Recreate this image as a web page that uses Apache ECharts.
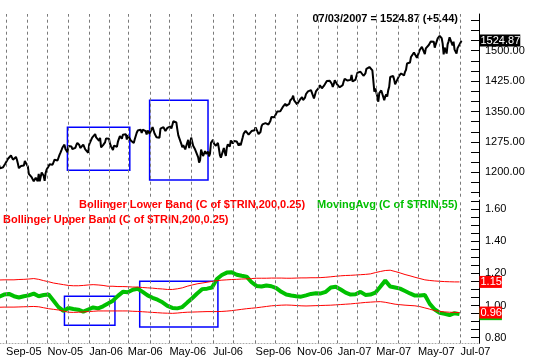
<!DOCTYPE html>
<html><head><meta charset="utf-8">
<script src="https://cdn.jsdelivr.net/npm/echarts@6/dist/echarts.min.js"></script>
<style>html,body{margin:0;padding:0;background:#fff}#c{width:533px;height:360px}</style>
</head><body><div id="c"></div>
<script>
// ---- data ----
const startDate = '2005-08-23';
const holidays = ['2005-09-05','2005-11-24','2005-12-26','2006-01-02','2006-01-16','2006-02-20','2006-04-14','2006-05-29','2006-07-04','2006-09-04','2006-11-23','2006-12-25','2007-01-01','2007-01-02','2007-01-15','2007-02-19','2007-04-06','2007-05-28'];
// daily closes, one per trading day from startDate
const price = [
1217.6,1209.6,1212.4,1205.1,1212.3,1208.4,1220.3,
1221.6,1218.0,1233.4,1236.4,1231.7,1241.5,1240.6,1231.2,1227.2,1227.7,1237.9,1231.0,1221.3,1210.2,1214.6,1215.3,1215.6,1215.7,1216.9,1227.7,1228.8,
1226.7,1214.5,1196.4,1191.5,1195.9,1187.3,1184.9,1177.7,1176.8,1186.6,1190.1,1178.1,1195.8,1177.8,1179.6,1199.4,1196.5,1191.4,1178.9,1198.4,1207.0,
1202.8,1215.0,1220.1,1219.9,1222.8,1218.6,1220.7,1231.0,1234.7,1233.8,1229.0,1231.2,1242.8,1248.3,1254.6,1261.2,1265.6,1268.3,1257.5,1257.5,1249.5,
1264.7,1265.1,1262.1,1263.7,1257.4,1255.8,1259.4,1260.4,1267.4,1272.7,1270.9,1267.3,1259.9,1259.6,1262.8,1268.1,1268.7,1256.5,1258.2,1254.4,1248.3,
1268.8,1273.5,1273.5,1285.5,1290.2,1289.7,1294.2,1286.1,1287.6,1283.0,1277.9,1285.0,1261.5,1263.8,1266.9,1264.7,1273.8,1283.7,1285.2,1280.1,
1282.5,1270.8,1264.0,1265.0,1254.8,1265.7,1263.8,1267.0,1262.9,1275.5,1280.0,1289.4,1287.2,1283.0,1292.7,1287.8,1289.4,1294.1,1280.7,
1291.2,1289.1,1287.2,1278.3,1275.9,1278.5,1272.2,1281.4,1284.1,1297.5,1303.0,1305.3,1307.3,1305.1,1297.2,1305.0,1301.7,1303.0,1301.6,1293.2,1302.9,1300.3,1294.9,
1297.8,1305.9,1311.6,1309.0,1295.5,1296.6,1286.6,1288.1,1289.1,1285.3,1307.7,1309.9,1311.5,1311.3,1308.1,1301.7,1305.4,1309.7,1310.6,
1305.2,1313.2,1308.1,1312.3,1325.8,1324.7,1325.1,1322.9,1305.9,1291.2,1294.5,1292.1,1270.3,1261.8,1267.0,1262.1,1256.6,1258.6,1272.9,1280.2,1259.8,1270.1,
1285.7,1288.2,1265.3,1263.9,1256.2,1257.9,1252.3,1237.4,1223.7,1230.0,1256.2,1251.5,1240.1,1240.1,1252.2,1245.6,1244.5,1250.6,1239.2,1246.0,1272.9,1270.2,
1280.2,1270.9,1274.1,1265.5,1267.3,1272.4,1258.6,1242.3,1236.2,1234.5,1236.9,1259.8,1249.1,1240.3,1260.9,1268.9,1268.4,1263.2,1278.6,1276.7,
1270.9,1277.4,1280.3,1279.4,1275.8,1271.5,1266.0,1271.8,1266.7,1268.2,1285.6,1295.4,1297.5,1302.3,1297.5,1298.8,1293.0,1296.1,1295.1,1301.8,1304.3,1305.4,1303.8,
1311.0,1313.3,1300.3,1294.0,1298.9,1299.5,1313.0,1318.1,1316.3,1319.7,1321.2,1317.6,1325.2,1318.0,1314.8,1326.4,1336.3,1336.6,1338.9,1335.9,
1331.3,1334.1,1350.2,1353.2,1349.6,1350.7,1353.4,1350.0,1362.8,1365.6,1369.1,1364.1,1365.8,1367.0,1368.6,1377.0,1377.4,1382.2,1389.1,1377.3,1377.9,1377.9,
1367.8,1367.3,1364.3,1379.8,1382.8,1385.7,1378.3,1380.9,1384.4,1393.2,1396.6,1399.8,1401.2,1400.5,1402.8,1406.1,1401.0,1382.0,1386.7,1399.5,1400.6,
1396.7,1409.1,1414.8,1412.9,1407.3,1409.8,1413.0,1411.6,1413.2,1425.5,1427.1,1422.5,1425.6,1423.5,1418.3,1410.8,1416.9,1426.8,1424.7,1418.3,
1416.6,1418.3,1409.7,1412.8,1412.1,1414.9,1423.8,1430.7,1431.9,1430.6,1426.4,1430.5,1423.0,1428.0,1440.1,1423.9,1422.2,1420.6,1428.8,1438.2,
1445.9,1448.4,1447.0,1448.0,1450.0,1448.3,1438.1,1433.4,1444.3,1455.3,1456.8,1455.5,1459.7,1457.6,1456.4,1451.2,1449.4,1399.0,1406.8,
1403.2,1387.2,1374.1,1395.4,1392.0,1401.9,1402.8,1406.6,1378.0,1387.2,1392.3,1387.0,1402.1,1410.9,1435.0,1434.5,1436.1,1437.5,1428.6,1417.2,1422.5,1420.9,
1424.6,1437.8,1440.1,1443.8,1444.6,1448.4,1438.9,1447.8,1452.9,1468.3,1471.5,1472.5,1470.7,1484.4,1480.9,1480.4,1495.4,1494.3,1494.1,1482.4,
1486.3,1495.9,1502.4,1505.6,1509.5,1507.7,1512.6,1491.5,1505.9,1503.2,1501.2,1514.1,1512.8,1522.8,1525.1,1524.1,1522.3,1507.5,1515.7,1518.1,1530.2,1530.6,
1536.3,1539.2,1531.0,1517.4,1490.7,1507.7,1509.1,1493.0,1515.7,1523.0,1532.9,1531.1,1533.7,1512.8,1522.2,1502.6,1497.7,1492.9,1506.3,1505.7,1503.4,
1519.4,1524.87
];
// TRIN indicators, one value every 5 trading days from startDate
const sampleStep = 5;
const upperBand = [
1.159,1.160,1.160,1.160,1.162,1.163,1.165,1.168,1.163,1.155,
1.148,1.140,1.135,1.130,1.125,1.123,1.123,1.125,1.128,1.130,
1.128,1.125,1.120,1.120,1.118,1.118,1.117,1.115,1.115,1.112,
1.110,1.108,1.105,1.103,1.100,1.100,1.104,1.110,1.120,1.128,
1.135,1.140,1.145,1.150,1.155,1.158,1.160,1.162,1.163,1.165,
1.166,1.168,1.170,1.170,1.170,1.171,1.171,1.171,1.170,1.170,
1.171,1.172,1.172,1.173,1.173,1.174,1.176,1.179,1.182,1.185,
1.187,1.188,1.190,1.192,1.194,1.197,1.205,1.212,1.218,1.220,
1.212,1.203,1.193,1.185,1.176,1.168,1.160,1.156,1.153,1.151,
1.149,1.148,1.147,1.147];
const lowerBand = [
0.989,0.990,0.990,0.990,0.991,0.992,0.993,0.994,0.992,0.986,
0.980,0.976,0.972,0.965,0.958,0.957,0.958,0.960,0.962,0.964,
0.966,0.966,0.966,0.966,0.966,0.966,0.966,0.964,0.963,0.961,
0.959,0.957,0.955,0.953,0.952,0.951,0.953,0.956,0.958,0.959,
0.960,0.961,0.962,0.962,0.962,0.963,0.965,0.968,0.972,0.976,
0.980,0.983,0.986,0.990,0.994,0.998,1.000,1.002,1.003,1.002,
1.000,0.998,0.997,0.998,0.999,1.000,1.001,1.002,1.004,1.006,
1.008,1.010,1.013,1.016,1.019,1.021,1.023,1.024,1.020,1.014,
1.008,1.005,1.002,1.000,0.998,0.993,0.985,0.977,0.968,0.963,
0.960,0.958,0.957,0.956];
const movingAvg = [
1.055,1.068,1.072,1.058,1.050,1.058,1.063,1.074,1.058,1.065,
1.068,1.030,0.990,0.966,0.984,0.978,0.974,0.962,0.975,0.988,
0.982,0.995,1.012,1.030,1.060,1.085,1.082,1.098,1.104,1.085,
1.063,1.048,1.036,1.020,0.998,0.985,0.982,0.990,1.018,1.045,
1.075,1.102,1.105,1.112,1.165,1.190,1.205,1.207,1.192,1.185,
1.180,1.145,1.122,1.118,1.125,1.120,1.108,1.085,1.068,1.062,
1.058,1.055,1.063,1.072,1.076,1.075,1.085,1.112,1.117,1.100,
1.080,1.068,1.070,1.085,1.066,1.068,1.080,1.117,1.155,1.118,
1.112,1.105,1.090,1.075,1.062,1.063,1.065,1.010,0.975,0.955,
0.948,0.940,0.952,0.946];
// annotation boxes: [fromDate, toDate, low, high]
const priceBoxes = [['2005-11-30','2006-03-03',1205,1311],['2006-03-31','2006-06-26',1181,1377.6]];
const trinBoxes = [['2005-11-25','2006-02-09',0.877,1.057],['2006-03-17','2006-07-11',0.866,1.151]];
const priceLabelValues = [1200,1275,1350,1425,1500];
const priceTickValues = [1150,1175,1200,1225,1250,1275,1300,1325,1350,1375,1400,1425,1450,1475,1500,1525,1550,1575];
const trinLabelValues = [0.80,1.00,1.20,1.40,1.60];
const trinTickValues = [0.80,0.85,0.90,0.95,1.00,1.05,1.10,1.15,1.20,1.25,1.30,1.35,1.40,1.45,1.50,1.55,1.60,1.65];
const monthNames = ['Jan','Feb','Mar','Apr','May','Jun','Jul','Aug','Sep','Oct','Nov','Dec'];
const titleText = '07/03/2007 = 1524.87 (+5.44)';
const legendLower = 'Bollinger Lower Band (C of $TRIN,200,0.25)';
const legendUpper = 'Bollinger Upper Band (C of $TRIN,200,0.25)';
const legendMA = 'MovingAvg (C of $TRIN,55)';

// ---- trading calendar ----
function buildCalendar(start, n, hol) {
  const hs = new Set(hol); const out = [];
  const d = new Date(start + 'T00:00:00Z');
  while (out.length < n) {
    const wd = d.getUTCDay(); const s = d.toISOString().slice(0, 10);
    if (wd !== 0 && wd !== 6 && !hs.has(s)) out.push(s);
    d.setUTCDate(d.getUTCDate() + 1);
  }
  return out;
}
const dates = buildCalendar(startDate, price.length, holidays);
const idxOf = {}; dates.forEach((d, i) => { idxOf[d] = i; });
const monthStarts = [];
for (let i = 1; i < dates.length; i++) if (dates[i].slice(5, 7) !== dates[i - 1].slice(5, 7)) monthStarts.push(i);
const labeledMonths = monthStarts.filter(i => (+dates[i].slice(5, 7) - 1) % 2 === 0);
const monthText = {};
labeledMonths.forEach(i => { monthText[i] = monthNames[+dates[i].slice(5, 7) - 1] + '-' + dates[i].slice(2, 4); });

const X_MIN = 0.9, X_MAX = 484.7;
const FONT = 'Liberation Sans, Arial, sans-serif';
const last = a => a[a.length - 1];
const sampled = a => a.map((v, i) => [i * sampleStep, v]);
const gridLine = (gi) => ({
  type: 'line', xAxisIndex: gi, yAxisIndex: gi, data: [], z: 1, silent: true,
  markLine: { silent: true, symbol: ['none', 'none'], label: { show: false }, animation: false,
    lineStyle: { color: '#7a7a7a', type: [3, 3], width: 1 }, data: monthStarts.map(m => ({ xAxis: m })) }
});
const boxArea = (boxes) => ({ silent: true, animation: false,
  itemStyle: { color: 'rgba(0,0,0,0)', borderColor: '#0000ff', borderWidth: 1.5 },
  data: boxes.map(b => [{ coord: [idxOf[b[0]], b[2]] }, { coord: [idxOf[b[1]], b[3]] }]) });
const endTag = (v, bg, txt) => ({ animation: false, symbol: 'rect', symbolSize: 1, itemStyle: { color: 'rgba(0,0,0,0)' },
  data: [{ coord: [X_MAX, v] }],
  label: { show: true, position: 'right', distance: 0, formatter: txt, color: '#fff', backgroundColor: bg,
    padding: [1, 0, 0, 1], fontSize: 11, lineHeight: 11, fontFamily: FONT } });

const chart = echarts.init(document.getElementById('c'));
chart.setOption({
  animation: false,
  backgroundColor: '#fff',
  grid: [
    { left: 0, right: 54, top: 14, height: 182.7 },
    { left: 0, right: 54, top: 200, height: 143.3 }
  ],
  xAxis: [
    { gridIndex: 0, type: 'value', min: X_MIN, max: X_MAX, show: false },
    { gridIndex: 1, type: 'value', min: X_MIN, max: X_MAX,
      axisLine: { show: true, onZero: false, lineStyle: { color: '#aaa', type: [1, 2], width: 1 } },
      axisTick: { show: false }, splitLine: { show: false },
      axisLabel: { customValues: labeledMonths, formatter: v => monthText[v] || '', align: 'left', margin: 3,
        fontSize: 11, fontFamily: FONT, color: '#000', showMinLabel: true, showMaxLabel: true, hideOverlap: false } }
  ],
  yAxis: [
    { gridIndex: 0, type: 'value', position: 'right', min: 1139.8, max: 1590.5, splitLine: { show: false },
      axisLine: { show: true, onZero: false, lineStyle: { color: '#000', width: 1 } },
      axisTick: { show: true, inside: true, length: 8, customValues: priceTickValues, lineStyle: { color: '#000' } },
      axisLabel: { customValues: priceLabelValues, formatter: v => v.toFixed(2), margin: 6, fontSize: 11, fontFamily: FONT, color: '#000' } },
    { gridIndex: 1, type: 'value', position: 'right', min: 0.7643, max: 1.6577, splitLine: { show: false },
      axisLine: { show: true, onZero: false, lineStyle: { color: '#000', width: 1 } },
      axisTick: { show: true, inside: true, length: 8, customValues: trinTickValues, lineStyle: { color: '#000' } },
      axisLabel: { customValues: trinLabelValues, formatter: v => v.toFixed(2), margin: 6, fontSize: 11, fontFamily: FONT, color: '#000' } }
  ],
  series: [
    gridLine(0), gridLine(1),
    { name: 'Price', type: 'line', xAxisIndex: 0, yAxisIndex: 0, z: 3, symbol: 'none', showSymbol: false,
      data: price.map((v, i) => [i, v]), lineStyle: { color: '#000', width: 2 },
      markArea: boxArea(priceBoxes),
      markPoint: endTag(last(price), '#000', last(price).toFixed(2)) },
    { name: legendMA, type: 'line', xAxisIndex: 1, yAxisIndex: 1, z: 3, symbol: 'none', showSymbol: false,
      data: sampled(movingAvg), lineStyle: { color: '#00c000', width: 4 },
      markArea: boxArea(trinBoxes),
      markPoint: endTag(last(movingAvg), '#00c000', last(movingAvg).toFixed(2)) },
    { name: legendUpper, type: 'line', xAxisIndex: 1, yAxisIndex: 1, z: 4, symbol: 'none', showSymbol: false,
      data: sampled(upperBand), lineStyle: { color: '#ff0000', width: 1 },
      markPoint: endTag(last(upperBand), '#ff0000', last(upperBand).toFixed(2)) },
    { name: legendLower, type: 'line', xAxisIndex: 1, yAxisIndex: 1, z: 4, symbol: 'none', showSymbol: false,
      data: sampled(lowerBand), lineStyle: { color: '#ff0000', width: 1 },
      markPoint: endTag(last(lowerBand), '#ff0000', last(lowerBand).toFixed(2)) }
  ],
  graphic: [
    { type: 'text', right: 75, top: 13, style: { text: titleText, font: 'bold 11px ' + FONT, fill: '#000' } },
    { type: 'text', left: 79, top: 199, style: { text: legendLower, font: 'bold 11px ' + FONT, fill: '#ff0000' } },
    { type: 'text', left: 317, top: 199, style: { text: legendMA, font: 'bold 11px ' + FONT, fill: '#00c000' } },
    { type: 'text', left: 3, top: 214, style: { text: legendUpper, font: 'bold 11px ' + FONT, fill: '#ff0000' } }
  ]
});
</script>
</body></html>
